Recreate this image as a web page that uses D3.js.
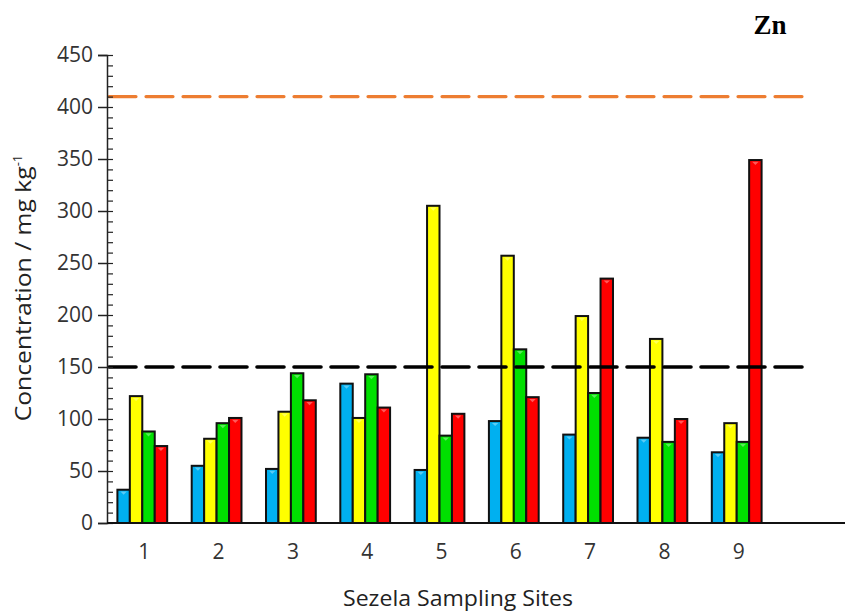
<!DOCTYPE html>
<html>
<head>
<meta charset="utf-8">
<script src="https://cdn.jsdelivr.net/npm/d3@7"></script>
<style>
  body { margin: 0; background: #fff; }
  svg { display: block; }
  .tick text { font-family: "Open Sans", sans-serif; fill: #333; }
</style>
</head>
<body>
<div id="chart"></div>
<script>
/* -----------------------
data
------------------------- */

var sites = ["1", "2", "3", "4", "5", "6", "7", "8", "9"];
var seriesNames = ["s1", "s2", "s3", "s4"];
var seriesColors = ["#00b0f0", "#ffff00", "#00e000", "#ff0000"];

var blueVals   = [32, 55, 52, 134, 51, 98, 85, 82, 68];
var yellowVals = [122, 81, 107, 101, 305, 257, 199, 177, 96];
var greenVals  = [88, 96, 144, 143, 84, 167, 125, 78, 78];
var redVals    = [74, 101, 118, 111, 105, 121, 235, 100, 349];

var yTicks = [0, 50, 100, 150, 200, 250, 300, 350, 400, 450];
var guideValues = [410, 150];
var guideColors = ["#ed7d31", "#000"];

/* -----------------------
main variables
------------------------- */

var width = 845, height = 613;
var plotLeft = 107, plotBottom = 523, plotTop = 55;

var svg = d3.select("#chart").append("svg")
  .attr("width", width)
  .attr("height", height);

var y = d3.scaleLinear().domain([0, 450]).range([plotBottom, plotTop]);

var x = d3.scaleBand()
  .domain(sites)
  .range([plotLeft, 772])
  .paddingInner(0.33)
  .paddingOuter(0.14);

var x1 = d3.scaleBand()
  .domain(seriesNames)
  .range([0, x.bandwidth()]);

var table = sites.map(function (s, i) {
  return { site: s, vals: [blueVals[i], yellowVals[i], greenVals[i], redVals[i]] };
});

/* -----------------------
bars
------------------------- */

var group = svg.selectAll(".site")
  .data(table)
  .enter().append("g")
  .attr("class", "site")
  .attr("transform", function (d) { return "translate(" + x(d.site) + ",0)"; });

var bar = group.selectAll(".bar")
  .data(function (d) { return d.vals.map(function (v, j) { return { v: v, j: j }; }); })
  .enter().append("g")
  .attr("class", "bar");

bar.append("rect")
  .attr("x", function (d) { return x1(seriesNames[d.j]); })
  .attr("y", function (d) { return y(d.v); })
  .attr("width", x1.bandwidth())
  .attr("height", function (d) { return y(0) - y(d.v); })
  .attr("fill", function (d) { return seriesColors[d.j]; })
  .attr("stroke", "#111")
  .attr("stroke-width", 2);

// little bevel highlight on top of each bar
bar.append("path")
  .attr("d", function (d) {
    var bx = x1(seriesNames[d.j]), by = y(d.v), bw = x1.bandwidth();
    return "M" + (bx + 3) + "," + (by + 1.8) + "L" + (bx + bw - 3) + "," + (by + 1.8) +
           "L" + (bx + bw / 2) + "," + (by + 5) + "Z";
  })
  .attr("fill", "#fff")
  .attr("opacity", 0.35);

/* -----------------------
guide lines
------------------------- */

svg.selectAll(".guide")
  .data(guideValues)
  .enter().append("line")
  .attr("class", "guide")
  .attr("x1", plotLeft + 2)
  .attr("x2", 808)
  .attr("y1", function (d) { return y(d); })
  .attr("y2", function (d) { return y(d); })
  .attr("stroke", function (d, i) { return guideColors[i]; })
  .attr("stroke-width", function (d, i) { return i == 0 ? 3.2 : 3.6; })
  .attr("stroke-linecap", "round")
  .attr("stroke-dasharray", "27 10");

/* -----------------------
axes
------------------------- */

var yMinor = d3.range(0, 451, 10);

svg.append("g")
  .attr("transform", "translate(" + plotLeft + ",0)")
  .call(d3.axisRight(y).tickValues(yMinor).tickSize(6).tickFormat(""))
  .call(function (g) { g.select(".domain").remove(); g.selectAll("line").attr("stroke", "#222").attr("stroke-width", 1.2); });

var yAxis = svg.append("g")
  .attr("transform", "translate(" + plotLeft + ",0)")
  .call(d3.axisLeft(y).tickValues(yTicks).tickSize(9).tickPadding(5));

yAxis.select(".domain").attr("stroke", "#222").attr("stroke-width", 1.5);
yAxis.selectAll(".tick line").attr("stroke", "#222").attr("stroke-width", 1.5);
yAxis.selectAll(".tick text").attr("font-size", 21);

var xAxis = svg.append("g")
  .attr("transform", "translate(0," + plotBottom + ")")
  .call(d3.axisBottom(x).tickSize(0).tickPadding(21));

xAxis.select(".domain").remove();
xAxis.selectAll(".tick text").attr("font-size", 21).attr("dx", 2);

svg.append("line")
  .attr("x1", plotLeft).attr("x2", width)
  .attr("y1", plotBottom).attr("y2", plotBottom)
  .attr("stroke", "#111").attr("stroke-width", 2.2);

/* -----------------------
labels
------------------------- */

svg.append("text")
  .attr("x", 458).attr("y", 606)
  .attr("text-anchor", "middle")
  .attr("font-family", "Open Sans, sans-serif")
  .attr("font-size", 21)
  .attr("fill", "#222")
  .attr("textLength", 230)
  .attr("lengthAdjust", "spacingAndGlyphs")
  .text("Sezela Sampling Sites");

var yl = svg.append("text")
  .attr("transform", "translate(31,288) rotate(-90)")
  .attr("text-anchor", "middle")
  .attr("font-family", "Open Sans, sans-serif")
  .attr("font-size", 21)
  .attr("fill", "#222");
yl.append("tspan").text("Concentration / mg kg")
  .attr("textLength", 255)
  .attr("lengthAdjust", "spacingAndGlyphs");
yl.append("tspan").attr("dy", -9).attr("font-size", 13).text("-1");

svg.append("text")
  .attr("x", 770).attr("y", 34)
  .attr("text-anchor", "middle")
  .attr("font-family", "Liberation Serif, serif")
  .attr("font-weight", "bold")
  .attr("font-size", 27)
  .attr("fill", "#000")
  .text("Zn");
</script>
</body>
</html>
